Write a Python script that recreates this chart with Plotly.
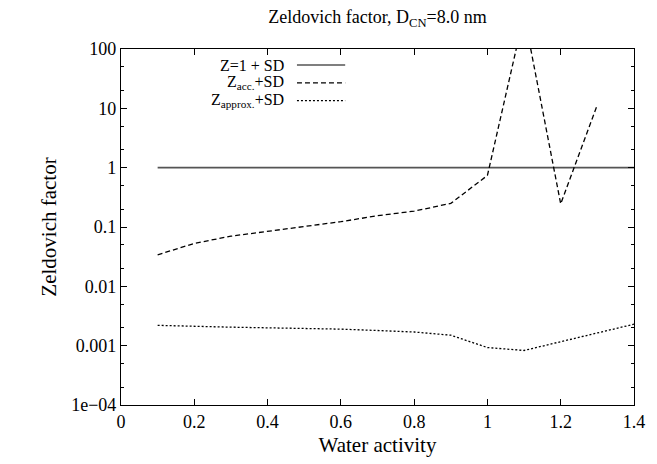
import plotly.graph_objects as go

# Data
aw_one = [0.1, 1.4]
z_one = [1.0, 1.0]

aw_acc = [0.1, 0.2, 0.3, 0.4, 0.5, 0.6, 0.7, 0.8, 0.9, 1.0, 1.1, 1.2, 1.3]
z_acc = [0.034, 0.053, 0.070, 0.084, 0.100, 0.123, 0.155, 0.185, 0.25, 0.74, 380.0, 0.245, 11.5]

aw_approx = [0.1, 0.2, 0.3, 0.4, 0.5, 0.6, 0.7, 0.8, 0.9, 1.0, 1.1, 1.2, 1.3, 1.4]
z_approx = [0.0022, 0.0021, 0.00205, 0.0020, 0.00195, 0.0019, 0.0018, 0.0017, 0.0015,
            0.00093, 0.00083, 0.00117, 0.00166, 0.0023]

x_ticks = [0, 0.2, 0.4, 0.6, 0.8, 1.0, 1.2, 1.4]
x_ticklabels = ["0", "0.2", "0.4", "0.6", "0.8", "1", "1.2", "1.4"]
y_ticks = [1e-4, 1e-3, 1e-2, 1e-1, 1, 10, 100]
y_ticklabels = ["1e\u221204", "0.001", "0.01", "0.1", "1", "10", "100"]

legend_names = ["Z=1 + SD", "Z<sub>acc.</sub>+SD", "Z<sub>approx.</sub>+SD"]
legend_colors = ["#555555", "black", "black"]

FONT = "'Liberation Serif', 'Times New Roman', Times, serif"

fig = go.Figure()
fig.add_trace(go.Scatter(x=aw_one, y=z_one, mode="lines", name=legend_names[0],
                         line=dict(color=legend_colors[0], width=1.6, dash="solid")))
fig.add_trace(go.Scatter(x=aw_acc, y=z_acc, mode="lines", name=legend_names[1],
                         line=dict(color=legend_colors[1], width=1.3, dash="5px,3px")))
fig.add_trace(go.Scatter(x=aw_approx, y=z_approx, mode="lines", name=legend_names[2],
                         line=dict(color=legend_colors[2], width=1.3, dash="2px,2px")))

# gnuplot-style key: right-aligned text with line sample on the right
row_y = [0.955, 0.905, 0.855]
dash_px = ["solid", "5px,3px", "2px,2px"]
for name, yy, dsh, col in zip(legend_names, row_y, dash_px, legend_colors):
    fig.add_annotation(x=0.322, y=yy, xref="paper", yref="paper", text=name,
                       showarrow=False, xanchor="right", yanchor="middle",
                       font=dict(family=FONT, size=16, color="black"))
    fig.add_shape(type="line", xref="paper", yref="paper", x0=0.343, x1=0.437,
                  y0=yy, y1=yy, line=dict(color=col, width=1.4 if dsh == "solid" else 1.3, dash=dsh))

minor_vals = []
for d in [1e-4, 1e-3, 1e-2, 1e-1, 1, 10]:
    minor_vals += [2 * d, 5 * d]

fig.update_layout(
    width=657, height=464,
    margin=dict(l=121, r=17, t=49, b=57),
    paper_bgcolor="white", plot_bgcolor="white",
    showlegend=False,
    font=dict(family=FONT, size=18, color="black"),
    title=dict(text="Zeldovich factor, D<sub>CN</sub>=8.0 nm", x=0.5, xref="paper",
               y=1 - 17 / 464, yref="container", yanchor="middle", xanchor="center",
               font=dict(family=FONT, size=18, color="black")),
)
fig.update_xaxes(
    range=[0, 1.4], tickmode="array", tickvals=x_ticks, ticktext=x_ticklabels,
    showgrid=False, zeroline=False, showline=True, linecolor="black", linewidth=1.2,
    mirror="ticks", ticks="inside", ticklen=6, tickcolor="black", tickwidth=1,
    tickfont=dict(family=FONT, size=18),
    title=dict(text="Water activity", font=dict(family=FONT, size=21), standoff=6),
)
fig.update_yaxes(
    type="log", range=[-4, 2], tickmode="array", tickvals=y_ticks, ticktext=y_ticklabels,
    showgrid=False, zeroline=False, showline=True, linecolor="black", linewidth=1.2,
    mirror="ticks", ticks="inside", ticklen=6, tickcolor="black", tickwidth=1,
    tickfont=dict(family=FONT, size=18),
    minor=dict(tickmode="array", tickvals=minor_vals, ticks="inside", ticklen=3,
               tickcolor="black", showgrid=False),
    title=dict(text="Zeldovich factor", font=dict(family=FONT, size=21), standoff=8),
)

fig.write_html("out.html")
